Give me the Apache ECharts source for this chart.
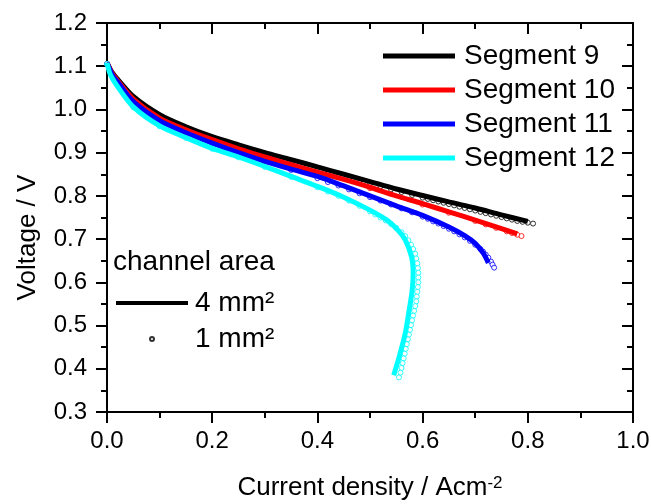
<!DOCTYPE html>
<html>
<head>
<meta charset="utf-8">
<script src="https://cdn.jsdelivr.net/npm/echarts@6/dist/echarts.min.js"></script>
<style>
    html, body { margin: 0; padding: 0; background: #fff; }
    #chart { width: 651px; height: 504px; }
</style>
</head>
<body>
<div id="chart"></div>
<script>
    // legend names
    var segNames = ['Segment 9', 'Segment 10', 'Segment 11', 'Segment 12'];
    var areaNames = ['4 mm²', '1 mm²'];

    // 4 mm² channel area, solid lines  [current density, voltage]
    var seg9Line = [[0, 1.108], [0.01, 1.085], [0.02, 1.07], [0.05, 1.03], [0.1, 0.988], [0.15, 0.96], [0.2, 0.937],
        [0.25, 0.918], [0.3, 0.9], [0.35, 0.884], [0.4, 0.867], [0.45, 0.85], [0.5, 0.833], [0.55, 0.816],
        [0.6, 0.801], [0.65, 0.786], [0.7, 0.772], [0.75, 0.756], [0.8, 0.741]];
    var seg10Line = [[0, 1.108], [0.01, 1.083], [0.02, 1.067], [0.05, 1.024], [0.1, 0.98], [0.15, 0.953], [0.2, 0.93],
        [0.25, 0.909], [0.3, 0.89], [0.35, 0.872], [0.4, 0.855], [0.45, 0.838], [0.5, 0.82], [0.55, 0.8],
        [0.6, 0.782], [0.65, 0.763], [0.7, 0.744], [0.75, 0.724], [0.78, 0.712]];
    var seg11Line = [[0, 1.108], [0.01, 1.08], [0.02, 1.064], [0.05, 1.018], [0.1, 0.974], [0.15, 0.946], [0.2, 0.922],
        [0.25, 0.9], [0.3, 0.88], [0.35, 0.862], [0.4, 0.845], [0.45, 0.823], [0.5, 0.8], [0.55, 0.777],
        [0.6, 0.755], [0.65, 0.728], [0.68, 0.708], [0.7, 0.69], [0.715, 0.668], [0.725, 0.645]];
    var seg12Line = [[0, 1.108], [0.005, 1.085], [0.01, 1.072], [0.02, 1.053], [0.05, 1.006], [0.1, 0.962], [0.15, 0.935],
        [0.2, 0.91], [0.25, 0.89], [0.3, 0.868], [0.35, 0.845], [0.4, 0.822], [0.45, 0.797], [0.5, 0.767],
        [0.532, 0.744], [0.555, 0.718], [0.567, 0.698], [0.579, 0.659], [0.582, 0.62], [0.58, 0.58],
        [0.575, 0.54], [0.567, 0.482], [0.556, 0.43], [0.545, 0.385]];

    // 1 mm² channel area, open circles
    var seg9Dots = [[0, 1.105], [0.02, 1.068], [0.05, 1.028], [0.1, 0.986], [0.15, 0.958], [0.2, 0.935], [0.25, 0.916],
        [0.3, 0.898], [0.35, 0.881], [0.4, 0.864], [0.42, 0.857], [0.44, 0.85], [0.46, 0.843], [0.48, 0.836],
        [0.5, 0.829], [0.52, 0.822], [0.54, 0.815], [0.56, 0.809], [0.58, 0.802], [0.6, 0.796], [0.61, 0.793],
        [0.62, 0.79], [0.63, 0.787], [0.64, 0.784], [0.65, 0.781], [0.66, 0.778], [0.67, 0.775], [0.68, 0.772],
        [0.69, 0.769], [0.7, 0.766], [0.71, 0.763], [0.72, 0.76], [0.73, 0.757], [0.74, 0.754], [0.75, 0.751],
        [0.76, 0.748], [0.77, 0.745], [0.78, 0.742], [0.79, 0.74], [0.8, 0.738], [0.81, 0.736]];
    var seg10Dots = [[0, 1.105], [0.05, 1.022], [0.1, 0.979], [0.2, 0.929], [0.3, 0.889], [0.4, 0.854], [0.5, 0.818],
        [0.6, 0.78], [0.65, 0.761], [0.7, 0.742], [0.72, 0.734], [0.74, 0.726], [0.76, 0.718], [0.77, 0.714],
        [0.78, 0.71], [0.788, 0.707]];
    var seg11Dots = [[0, 1.105], [0.05, 1.017], [0.1, 0.973], [0.15, 0.945], [0.2, 0.921], [0.25, 0.899], [0.3, 0.879],
        [0.35, 0.86], [0.4, 0.841], [0.42, 0.832], [0.44, 0.824], [0.46, 0.815], [0.48, 0.806], [0.5, 0.797],
        [0.52, 0.789], [0.54, 0.78], [0.56, 0.771], [0.58, 0.762], [0.6, 0.752], [0.61, 0.747], [0.62, 0.741],
        [0.63, 0.736], [0.64, 0.73], [0.65, 0.724], [0.66, 0.718], [0.67, 0.711], [0.68, 0.704], [0.69, 0.696],
        [0.7, 0.687], [0.71, 0.677], [0.715, 0.671], [0.72, 0.664], [0.725, 0.657], [0.73, 0.648], [0.733, 0.641],
        [0.736, 0.634]];
    var seg12Dots = [[0, 1.105], [0.05, 1.005], [0.1, 0.961], [0.15, 0.934], [0.2, 0.909], [0.25, 0.889], [0.3, 0.867],
        [0.35, 0.844], [0.4, 0.82], [0.42, 0.81], [0.44, 0.8], [0.46, 0.789], [0.48, 0.777], [0.5, 0.764],
        [0.51, 0.757], [0.52, 0.75], [0.53, 0.743], [0.54, 0.735], [0.55, 0.726], [0.56, 0.716], [0.567, 0.707],
        [0.573, 0.697], [0.578, 0.687], [0.582, 0.677], [0.586, 0.666], [0.588, 0.655], [0.59, 0.644],
        [0.591, 0.633], [0.592, 0.622], [0.592, 0.611], [0.592, 0.6], [0.591, 0.589], [0.59, 0.578],
        [0.589, 0.567], [0.588, 0.556], [0.586, 0.545], [0.584, 0.534], [0.582, 0.523], [0.58, 0.512],
        [0.578, 0.501], [0.576, 0.49], [0.574, 0.479], [0.572, 0.468], [0.57, 0.457], [0.568, 0.446],
        [0.566, 0.435], [0.564, 0.424], [0.562, 0.413], [0.56, 0.402], [0.558, 0.391], [0.555, 0.38]];

    var segLines = [seg9Line, seg10Line, seg11Line, seg12Line];
    var segDots = [seg9Dots, seg10Dots, seg11Dots, seg12Dots];
    var segColors = ['#000000', '#ff0000', '#0000ff', '#00ffff'];

    var FONT = '"Liberation Sans", Arial, sans-serif';

    function xAxisCfg(pos) {
        var bottom = pos === 'bottom';
        return {
            type: 'value', position: pos, min: 0, max: 1, interval: 0.2,
            axisLine: { show: true, onZero: false, lineStyle: { color: '#000', width: 2 } },
            axisTick: { show: true, inside: !bottom, length: 11, lineStyle: { color: '#000', width: 2 } },
            minorTick: { show: true, splitNumber: 2, length: 6, lineStyle: { color: '#000', width: 2 } },
            axisLabel: {
                show: bottom, margin: 17, color: '#000', fontSize: 24, fontFamily: FONT,
                formatter: function (v) { return v.toFixed(1); }
            },
            splitLine: { show: false },
            name: bottom ? 'Current density / Acm{sup|-2}' : '',
            nameLocation: 'middle', nameGap: 63,
            nameTextStyle: {
                color: '#000', fontSize: 26, fontFamily: FONT,
                rich: { sup: { fontSize: 17, fontFamily: FONT, color: '#000', verticalAlign: 'top', padding: [0, 0, 8, 0] } }
            }
        };
    }

    function yAxisCfg(pos) {
        var left = pos === 'left';
        return {
            type: 'value', position: pos, min: 0.3, max: 1.2, interval: 0.1,
            axisLine: { show: true, onZero: false, lineStyle: { color: '#000', width: 2 } },
            axisTick: { show: true, inside: !left, length: 11, lineStyle: { color: '#000', width: 2 } },
            minorTick: { show: true, splitNumber: 2, length: 6, lineStyle: { color: '#000', width: 2 } },
            axisLabel: {
                show: left, margin: 20, color: '#000', fontSize: 24, fontFamily: FONT,
                formatter: function (v) { return v.toFixed(1); }
            },
            splitLine: { show: false },
            name: left ? 'Voltage / V' : '',
            nameLocation: 'middle', nameGap: 66,
            nameTextStyle: { color: '#000', fontSize: 26, fontFamily: FONT, padding: [0, 40, 0, 0] }
        };
    }

    var series = [];
    // circles go underneath the lines
    segDots.forEach(function (d, i) {
        series.push({
            name: segNames[i] + ' (1 mm²)', type: 'scatter', data: d,
            symbol: 'circle', symbolSize: 5, z: 2,
            itemStyle: { color: '#fff', borderColor: segColors[i], borderWidth: 1 }
        });
    });
    segLines.forEach(function (d, i) {
        series.push({
            name: segNames[i], type: 'line', data: d, smooth: 0.3,
            showSymbol: false, z: 3,
            lineStyle: { color: segColors[i], width: 5 },
            itemStyle: { color: segColors[i] }
        });
    });
    // empty series just for the channel area legend
    series.push({ name: areaNames[0], type: 'line', data: [], showSymbol: false,
        lineStyle: { color: '#000', width: 5 }, itemStyle: { color: '#000' } });
    series.push({ name: areaNames[1], type: 'scatter', data: [],
        itemStyle: { color: '#fff', borderColor: '#000', borderWidth: 1 } });

    var chart = echarts.init(document.getElementById('chart'), null, { renderer: 'canvas' });
    chart.setOption({
        animation: false,
        backgroundColor: '#fff',
        // fixed plot box, don't let v6 shrink it for the axis names
        grid: { left: 107, right: 18, top: 23, bottom: 92, outerBoundsMode: 'none' },
        xAxis: [xAxisCfg('bottom'), xAxisCfg('top')],
        yAxis: [yAxisCfg('left'), yAxisCfg('right')],
        legend: [{
            data: segNames, orient: 'vertical', left: 383, top: 42, padding: 0,
            icon: 'rect', itemWidth: 72, itemHeight: 5, itemGap: 6,
            selectedMode: false,
            textStyle: { color: '#000', fontSize: 28, fontFamily: FONT, padding: [0, 0, 0, 4] }
        }, {
            orient: 'vertical', left: 116, top: 289, padding: 0,
            itemWidth: 72, itemHeight: 4, itemGap: 8,
            selectedMode: false,
            data: [
                { name: areaNames[0], icon: 'rect' },
                { name: areaNames[1], icon: 'circle' }
            ],
            textStyle: { color: '#000', fontSize: 28, fontFamily: FONT, padding: [0, 0, 0, 2] }
        }],
        graphic: [{
            type: 'text', left: 113, top: 248,
            style: { text: 'channel area', fontSize: 28, fontFamily: FONT, fill: '#000' }
        }],
        series: series
    });
</script>
</body>
</html>
